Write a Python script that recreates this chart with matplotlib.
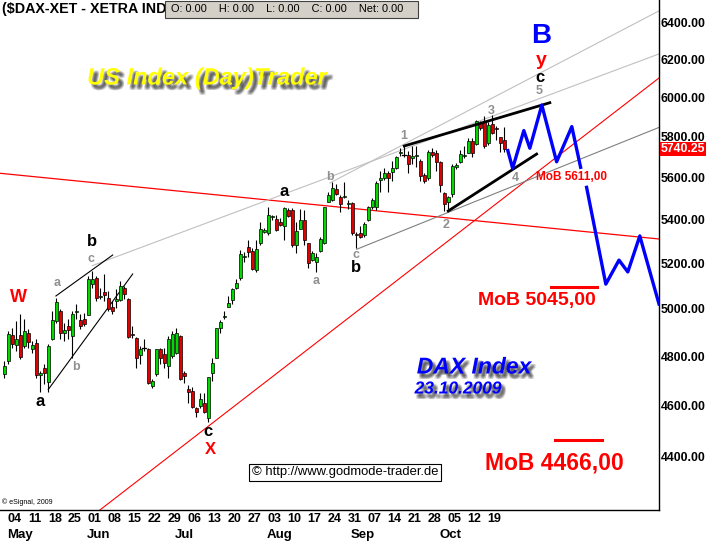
import matplotlib
matplotlib.use('Agg')
import matplotlib.pyplot as plt
import matplotlib.patheffects as pe
from matplotlib.patches import Rectangle
from matplotlib.ticker import NullLocator, NullFormatter
import numpy as np
import pandas as pd

W, H = 723, 542
FAMN = ['Liberation Sans Narrow', 'Liberation Sans', 'DejaVu Sans']
FAM = ['Liberation Sans', 'DejaVu Sans']

# ---------------- data ----------------
opens = [4728, 4780, 4889, 4847, 4889, 4843, 4898, 4830, 4855, 4724,
         4752, 4696, 4872, 4949, 4991, 4898, 4928, 4885, 4987, 4953,
         4957, 4974, 5108, 5135, 5052, 5074, 5048, 5009, 5035, 5039,
         5091, 5043, 4894, 4877, 4804, 4834, 4830, 4676, 4728, 4830,
         4808, 4760, 4800, 4813, 4885, 4732, 4664, 4656, 4588, 4596,
         4608, 4550, 4732, 4792, 4919, 4966, 5009, 5039, 5091, 5135,
         5228, 5274, 5256, 5170, 5293, 5343, 5338, 5413, 5404, 5390,
         5372, 5445, 5445, 5284, 5357, 5400, 5293, 5215, 5207, 5256,
         5293, 5481, 5495, 5547, 5509, 5509, 5472, 5477, 5333, 5338,
         5329, 5400, 5459, 5459, 5590, 5600, 5620, 5628, 5648, 5722,
         5712, 5712, 5697, 5705, 5683, 5615, 5600, 5727, 5722, 5678,
         5528, 5481, 5523, 5653, 5678, 5707, 5722, 5780, 5766, 5868,
         5878, 5771, 5863, 5843, 5800, 5785]
highs = [4780, 4906, 4919, 4949, 4978, 4957, 4915, 4864, 4872, 4740,
         4768, 4851, 4991, 5048, 5000, 4940, 4957, 4991, 5022, 4978,
         4983, 5143, 5165, 5143, 5091, 5152, 5078, 5035, 5087, 5122,
         5100, 5048, 4928, 4881, 4843, 4872, 4834, 4708, 4830, 4834,
         4834, 4885, 4906, 4919, 4889, 4740, 4680, 4672, 4592, 4648,
         4648, 4716, 4792, 4919, 4953, 4991, 5057, 5091, 5130, 5261,
         5251, 5306, 5270, 5306, 5390, 5361, 5459, 5422, 5422, 5409,
         5459, 5454, 5454, 5390, 5450, 5445, 5293, 5256, 5247, 5320,
         5459, 5533, 5577, 5567, 5518, 5577, 5495, 5481, 5343, 5370,
         5390, 5463, 5504, 5582, 5632, 5645, 5632, 5683, 5707, 5746,
         5756, 5732, 5756, 5756, 5693, 5624, 5737, 5746, 5737, 5683,
         5533, 5514, 5668, 5673, 5737, 5756, 5795, 5795, 5888, 5883,
         5904, 5873, 5909, 5853, 5800, 5848]
lows = [4712, 4768, 4834, 4821, 4788, 4834, 4834, 4813, 4712, 4652,
        4688, 4652, 4868, 4940, 4872, 4864, 4872, 4792, 4957, 4915,
        4928, 4974, 5091, 5035, 5043, 5035, 4991, 4978, 5004, 5035,
        5043, 4877, 4877, 4752, 4768, 4821, 4688, 4668, 4720, 4768,
        4752, 4712, 4792, 4808, 4704, 4692, 4608, 4588, 4554, 4588,
        4569, 4535, 4700, 4792, 4898, 4957, 5009, 5022, 5087, 5126,
        5205, 5228, 5170, 5161, 5284, 5338, 5329, 5400, 5348, 5372,
        5306, 5413, 5274, 5247, 5357, 5284, 5180, 5211, 5160, 5251,
        5288, 5481, 5486, 5518, 5436, 5504, 5450, 5329, 5270, 5315,
        5320, 5395, 5450, 5445, 5533, 5590, 5533, 5586, 5643, 5707,
        5702, 5620, 5668, 5653, 5586, 5572, 5590, 5702, 5630, 5533,
        5441, 5450, 5509, 5643, 5673, 5697, 5722, 5702, 5761, 5836,
        5746, 5761, 5817, 5785, 5727, 5727]
closes = [4760, 4893, 4851, 4872, 4796, 4906, 4860, 4847, 4724, 4732,
          4732, 4843, 4953, 5030, 4898, 4910, 4910, 4978, 4991, 4928,
          4936, 5130, 5130, 5048, 5057, 5061, 5000, 4991, 5043, 5100,
          5065, 4881, 4889, 4792, 4830, 4834, 4692, 4700, 4830, 4792,
          4772, 4872, 4894, 4898, 4708, 4720, 4652, 4592, 4573, 4624,
          4573, 4716, 4772, 4919, 4944, 4970, 5026, 5087, 5113, 5242,
          5233, 5251, 5175, 5265, 5357, 5352, 5422, 5418, 5352, 5375,
          5454, 5418, 5284, 5348, 5400, 5306, 5202, 5247, 5228, 5311,
          5459, 5518, 5552, 5523, 5472, 5514, 5477, 5338, 5329, 5320,
          5381, 5459, 5495, 5572, 5600, 5620, 5600, 5648, 5702, 5727,
          5714, 5668, 5707, 5708, 5610, 5586, 5727, 5712, 5678, 5562,
          5472, 5509, 5658, 5663, 5717, 5712, 5780, 5722, 5878, 5843,
          5756, 5858, 5822, 5840, 5770, 5740.25]
last_price = 5740.25

# trading days: 30 Apr 2009 .. 23 Oct 2009 (1 May holiday)
dates = [d for d in pd.bdate_range('2009-04-30', '2009-10-23')
         if d != pd.Timestamp('2009-05-01')]

y_ticks = [4400, 4600, 4800, 5000, 5200, 5400, 5600, 5800, 6000, 6200, 6400]

# forecast path (blue), in (bar index, price)
fc1_x = [125.9, 127.1, 129.9, 131.4, 134.4, 138.1, 141.9, 144.1]
fc1_y = [5732, 5645, 5832, 5744, 5962, 5677, 5852, 5650]
fc2_x = [145.6, 150.4, 153.7, 155.9, 158.9, 163.7]
fc2_y = [5553, 5108, 5215, 5162, 5325, 5021]

# trend lines (bar index, price)
wedge_up_x, wedge_up_y = [100.0, 136.4], [5755, 5974]
wedge_lo_x, wedge_lo_y = [111.0, 133.1], [5441, 5715]
jun_up_x, jun_up_y = [12.9, 27.1], [5056, 5238]
jun_lo_x, jun_lo_y = [11.0, 32.1], [4664, 5153]
gray_dark_x, gray_dark_y = [88.1, 163.7], [5264, 5848]
gray_a_x, gray_a_y = [81.4, 163.7], [5574, 6467]
gray_b_x, gray_b_y = [22.0, 163.7], [5190, 6231]
red1_x, red1_y = [23.9, 163.7], [4203, 6103]
red2_x, red2_y = [-1.1, 163.7], [5621, 5311]
mob_lines = [([136.7, 148.2], 5095), ([137.7, 149.4], 4466)]

# ---------------- figure ----------------
fig = plt.figure(figsize=(W / 100, H / 100), dpi=100)
fig.patch.set_facecolor('white')
ax = fig.add_axes([0, 32 / H, 659 / W, 510 / H])
ax.set_yscale('log')
ax.set_xlim(-1.08, 163.7)
ax.set_ylim(4203, 6528)

GREEN = '#00d800'
RED = '#e00000'
n = len(opens)
for i in range(n):
    o, h, l, c = opens[i], highs[i], lows[i], closes[i]
    ax.plot([i, i], [l, h], color='black', lw=0.8, zorder=3,
            solid_capstyle='butt')
    lo, hi = min(o, c), max(o, c)
    if hi - lo < 3:
        ax.plot([i - 0.45, i + 0.45], [o, o], color='black', lw=0.9, zorder=4)
    else:
        ax.add_patch(Rectangle((i - 0.4, lo), 0.8, hi - lo,
                               facecolor=GREEN if c >= o else RED,
                               edgecolor='black', lw=0.5, zorder=4))

# trend lines
ax.plot(red1_x, red1_y, color='red', lw=0.8, zorder=2)
ax.plot(red2_x, red2_y, color='red', lw=0.9, zorder=2)
ax.plot(gray_dark_x, gray_dark_y, color='#808080', lw=0.8, zorder=2)
ax.plot(gray_a_x, gray_a_y, color='#c0c0c0', lw=0.8, zorder=2)
ax.plot(gray_b_x, gray_b_y, color='#c0c0c0', lw=0.8, zorder=2)
ax.plot(jun_up_x, jun_up_y, color='black', lw=0.8, zorder=2)
ax.plot(jun_lo_x, jun_lo_y, color='black', lw=0.8, zorder=2)
ax.plot(wedge_up_x, wedge_up_y, color='black', lw=2.0, zorder=5)
ax.plot(wedge_lo_x, wedge_lo_y, color='black', lw=2.0, zorder=5)
ax.plot(fc1_x, fc1_y, color='#0000ff', lw=2.4, zorder=6)
ax.plot(fc2_x, fc2_y, color='#0000ff', lw=2.4, zorder=6)
for xs, yv in mob_lines:
    ax.plot(xs, [yv, yv], color='red', lw=2.2, zorder=6)

# axes styling
for s in ['left', 'top']:
    ax.spines[s].set_visible(False)
for s in ['right', 'bottom']:
    ax.spines[s].set_linewidth(1.0)
    ax.spines[s].set_color('black')
ax.yaxis.tick_right()
ax.yaxis.set_minor_locator(NullLocator())
ax.yaxis.set_minor_formatter(NullFormatter())
ax.set_yticks(y_ticks)
ax.set_yticklabels(['%.2f' % t for t in y_ticks], family=FAMN,
                   fontweight='bold', fontsize=8.8)
ax.tick_params(axis='y', length=0, pad=1)

mondays = [i for i, d in enumerate(dates) if d.weekday() == 0]
ax.set_xticks([m + 1.6 for m in mondays])
ax.set_xticklabels(['%02d' % dates[m].day for m in mondays], family=FAMN,
                   fontweight='bold', fontsize=9)
ax.tick_params(axis='x', length=0, pad=2.5)
month_first = []
for i, d in enumerate(dates):
    if i == 0 or d.month != dates[i - 1].month:
        if d.month >= 5:
            month_first.append(i if d.month != 5 else mondays[0])
for i in month_first:
    ax.text(i - 0.3, -0.037, dates[i].strftime('%b'), transform=ax.get_xaxis_transform(),
            ha='left', va='top', family=FAMN, fontweight='bold', fontsize=9.5)

# last price box
ax.text(1.003, last_price, '%.2f' % last_price, transform=ax.get_yaxis_transform(),
        ha='left', va='center', color='white', family=FAMN, fontweight='bold',
        fontsize=8.8, bbox=dict(facecolor='#ff0000', edgecolor='none', pad=0.6),
        clip_on=False, zorder=10)


def ptext(x, y, s, **kw):
    kw.setdefault('ha', 'center')
    kw.setdefault('va', 'center')
    kw.setdefault('family', FAM)
    return fig.text(x / W, 1 - y / H, s, **kw)


def soft_shadow(dx_px, dy_px):
    # blurred drop shadow built from faint offset copies (one text object)
    effects = []
    for ox in (-1.5, -0.5, 0.5, 1.5):
        for oy in (-1.5, -0.5, 0.5, 1.5):
            effects.append(pe.SimplePatchShadow(
                offset=((dx_px + ox) * 0.72, -(dy_px + oy) * 0.72),
                shadow_rgbFace='#303030', alpha=0.09))
    effects.append(pe.Normal())
    return effects


# header
ptext(2, 9, '($DAX-XET - XETRA INDICI', ha='left', fontweight='bold', fontsize=10.3)
fig.patches.append(Rectangle((165 / W, 1 - 18 / H), 253 / W, 17 / H,
                             transform=fig.transFigure, facecolor='#d4d0c8',
                             edgecolor='#404040', lw=0.8, zorder=5))
ptext(171, 9.5, 'O: 0.00    H: 0.00    L: 0.00    C: 0.00    Net: 0.00', ha='left',
      fontsize=7.9, zorder=6)

# big texts
ptext(207, 78, 'US Index (Day)Trader', color='#ffff00', fontsize=17,
      fontweight='bold', style='italic', path_effects=soft_shadow(4, 4))
ptext(474, 367, 'DAX Index', color='#0000ff', fontsize=16.5, fontweight='bold',
      style='italic', path_effects=soft_shadow(3, 4))
ptext(458, 389, '23.10.2009', color='#0000ff', fontsize=12.5, fontweight='bold',
      style='italic', path_effects=soft_shadow(3, 4))

# wave labels
ptext(18, 298, 'W', color='red', fontsize=13, fontweight='bold')
ptext(210, 449, 'X', color='red', fontsize=12, fontweight='bold')
ptext(541, 60, 'y', color='red', fontsize=14, fontweight='bold')
ptext(541, 36, 'B', color='#0000ff', fontsize=20, fontweight='bold')
ptext(540, 77, 'c', color='black', fontsize=12, fontweight='bold')
for (x, y, s) in [(40, 401, 'a'), (92, 242, 'b'), (284, 192, 'a'),
                  (356, 268, 'b'), (208, 432, 'c')]:
    ptext(x, y, s, color='black', fontsize=12, fontweight='bold')
for (x, y, s) in [(57, 283, 'a'), (76, 367, 'b'), (91, 259, 'c'),
                  (330, 177, 'b'), (316, 281, 'a'), (356, 255, 'c'),
                  (404, 136, '1'), (446, 225, '2'), (491, 111, '3'),
                  (515, 178, '4'), (539, 91, '5')]:
    ptext(x, y, s, color='#909090', fontsize=9, fontweight='bold')

# MoB labels
ptext(571, 177, 'MoB 5611,00', color='#ff0000', fontsize=8.5, fontweight='bold')
ptext(537, 300, 'MoB 5045,00', color='#ff0000', fontsize=14, fontweight='bold')
ptext(554, 463, 'MoB 4466,00', color='#ff0000', fontsize=16.5, fontweight='bold')

# copyright
ptext(345, 472.5, '\u00a9 http://www.godmode-trader.de', fontsize=9.4,
      bbox=dict(facecolor='white', edgecolor='black', lw=0.8, pad=2.0))
ptext(2, 502, '\u00a9 eSignal, 2009', ha='left', fontsize=5)

fig.savefig('out.png', dpi=100, facecolor='white')
